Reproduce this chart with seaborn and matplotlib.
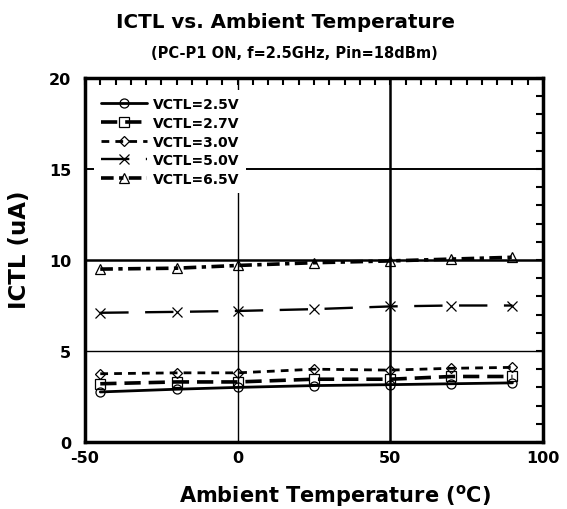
import numpy as np
import pandas as pd
import matplotlib
matplotlib.use("Agg")
import matplotlib.pyplot as plt
import seaborn as sns
from matplotlib.ticker import MultipleLocator

# data
temps = [-45, -20, 0, 25, 50, 70, 90]
labels = ["VCTL=2.5V", "VCTL=2.7V", "VCTL=3.0V", "VCTL=5.0V", "VCTL=6.5V"]
ictl_25 = [2.75, 2.9, 3.0, 3.1, 3.15, 3.2, 3.25]
ictl_27 = [3.2, 3.3, 3.3, 3.45, 3.45, 3.6, 3.6]
ictl_30 = [3.75, 3.8, 3.8, 4.0, 3.95, 4.05, 4.1]
ictl_50 = [7.1, 7.15, 7.2, 7.3, 7.45, 7.5, 7.5]
ictl_65 = [9.5, 9.55, 9.7, 9.85, 9.95, 10.05, 10.15]
x_ticks = [-50, 0, 50, 100]
y_ticks = [0, 5, 10, 15, 20]

sns.set_style("white")
plt.rcParams["font.family"] = ["DejaVu Sans"]
plt.rcParams["font.weight"] = "bold"
plt.rcParams["text.color"] = "black"
plt.rcParams["axes.labelcolor"] = "black"
plt.rcParams["xtick.color"] = "black"
plt.rcParams["ytick.color"] = "black"
plt.rcParams["axes.unicode_minus"] = False
plt.rcParams["mathtext.fontset"] = "dejavusans"

fig = plt.figure(figsize=(5.67, 5.10), dpi=100)
ax = fig.add_axes([85 / 567, 1 - 443 / 510, 458 / 567, 364 / 510])

styles = [
    dict(marker="o", linestyle="-", linewidth=2.0),
    dict(marker="s", linestyle=(0, (4.5, 2.2)), linewidth=2.6),
    dict(marker="D", linestyle=(0, (2.8, 2.2)), linewidth=2.0, markersize=5.5),
    dict(marker="x", linestyle=(0, (12, 7)), linewidth=1.7),
    dict(marker="^", linestyle=(0, (3.5, 1.5, 1.2, 1.5)), linewidth=2.6),
]
series = [ictl_25, ictl_27, ictl_30, ictl_50, ictl_65]

for vals, lab, st in zip(series, labels, styles):
    kw = dict(markersize=6.5, markerfacecolor="none", markeredgecolor="black",
              markeredgewidth=0.9)
    kw.update(st)
    sns.lineplot(x=temps, y=vals, ax=ax, color="black", label=lab, **kw)

# grid lines
ax.axvline(0, color="black", lw=1.0, zorder=0)
ax.axvline(50, color="black", lw=1.8, zorder=0)
ax.axhline(5, color="black", lw=1.0, zorder=0)
ax.axhline(10, color="black", lw=1.8, zorder=0)
ax.axhline(15, color="black", lw=1.4, zorder=0)

ax.set_xlim(-50, 100)
ax.set_ylim(0, 20)
ax.set_xticks(x_ticks)
ax.set_yticks(y_ticks)
ax.xaxis.set_minor_locator(MultipleLocator(5))
ax.yaxis.set_minor_locator(MultipleLocator(1))
ax.tick_params(which="both", direction="in", top=True, right=True,
               length=5, width=1.5, labelsize=11.5)
ax.tick_params(axis="y", pad=10)
ax.tick_params(axis="x", pad=6)
for lbl in ax.get_xticklabels() + ax.get_yticklabels():
    lbl.set_fontweight("bold")
for sp in ax.spines.values():
    sp.set_linewidth(2.5)
    sp.set_color("black")

ax.set_xlabel(r"Ambient Temperature ($^\mathbf{o}$C)", fontsize=15,
              fontweight="bold")
ax.set_ylabel("ICTL (uA)", fontsize=16.5, fontweight="bold")
ax.xaxis.set_label_coords((335 - 85) / 458, -(483 - 443) / 364)
ax.yaxis.set_label_coords(-(85 - 31) / 458, (443 - 250) / 364)

fig.text(286 / 567, 1 - 22 / 510, "ICTL vs. Ambient Temperature", ha="center",
         va="center", fontsize=14.3, fontweight="bold")
fig.text(294 / 567, 1 - 53 / 510, "(PC-P1 ON, f=2.5GHz, Pin=18dBm)", ha="center",
         va="center", fontsize=10.5, fontweight="bold")

leg = ax.legend(loc="upper left", bbox_to_anchor=(0.005, 0.985), frameon=True,
                fancybox=False, edgecolor="white", framealpha=1.0,
                handlelength=3.3, handletextpad=0.4, labelspacing=0.33,
                borderpad=0.5, prop=dict(size=10, weight="bold"))
leg.get_frame().set_linewidth(0)

fig.savefig("out.png", dpi=100)
